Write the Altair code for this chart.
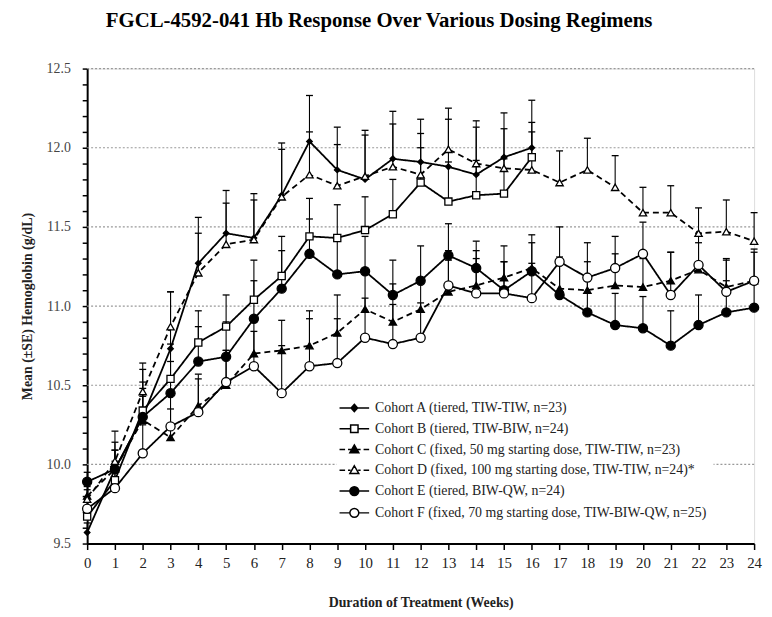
import altair as alt
import pandas as pd

labels = [
    "Cohort A (tiered, TIW-TIW, n=23)",
    "Cohort B (tiered, TIW-BIW, n=24)",
    "Cohort C (fixed, 50 mg starting dose, TIW-TIW, n=23)",
    "Cohort D (fixed, 100 mg starting dose, TIW-TIW, n=24)*",
    "Cohort E (tiered, BIW-QW, n=24)",
    "Cohort F (fixed, 70 mg starting dose, TIW-BIW-QW, n=25)",
]

hb_A = [9.57, 9.97, 10.30, 10.73, 11.27, 11.46, 11.43, 11.70, 12.04, 11.86, 11.80, 11.93, 11.91, 11.88, 11.83, 11.94, 12.00]
se_A = [0.06, 0.24, 0.30, 0.36, 0.29, 0.27, 0.28, 0.33, 0.29, 0.27, 0.31, 0.30, 0.27, 0.30, 0.30, 0.28, 0.30]

hb_B = [9.67, 9.90, 10.34, 10.54, 10.77, 10.87, 11.04, 11.19, 11.44, 11.43, 11.48, 11.58, 11.78, 11.66, 11.70, 11.71, 11.94]
se_B = [0.06, 0.12, 0.18, 0.22, 0.20, 0.20, 0.25, 0.25, 0.24, 0.21, 0.21, 0.22, 0.22, 0.25, 0.22, 0.22, 0.22]

hb_C = [9.80, 9.97, 10.28, 10.17, 10.37, 10.50, 10.70, 10.72, 10.75, 10.83, 10.98, 10.90, 10.98, 11.09, 11.13, 11.18, 11.24, 11.11, 11.10, 11.13, 11.12, 11.16, 11.23, 11.12, 11.16]
se_C = [0.06, 0.12, 0.15, 0.18, 0.20, 0.22, 0.20, 0.19, 0.22, 0.24, 0.22, 0.24, 0.20, 0.20, 0.22, 0.20, 0.21, 0.20, 0.18, 0.20, 0.18, 0.18, 0.17, 0.18, 0.18]

hb_D = [9.78, 10.02, 10.46, 10.87, 11.21, 11.39, 11.42, 11.69, 11.83, 11.76, 11.82, 11.88, 11.83, 11.99, 11.90, 11.87, 11.86, 11.78, 11.86, 11.75, 11.59, 11.59, 11.46, 11.47, 11.41]
se_D = [0.06, 0.12, 0.18, 0.22, 0.25, 0.26, 0.25, 0.30, 0.27, 0.26, 0.26, 0.27, 0.26, 0.26, 0.27, 0.25, 0.24, 0.20, 0.20, 0.20, 0.16, 0.17, 0.16, 0.20, 0.18]

hb_E = [9.89, 9.97, 10.30, 10.45, 10.65, 10.68, 10.92, 11.11, 11.33, 11.20, 11.22, 11.07, 11.16, 11.32, 11.24, 11.10, 11.22, 11.07, 10.96, 10.88, 10.86, 10.75, 10.88, 10.96, 10.99]
se_E = [0.06, 0.12, 0.18, 0.20, 0.22, 0.22, 0.24, 0.24, 0.22, 0.22, 0.22, 0.22, 0.22, 0.20, 0.17, 0.18, 0.18, 0.20, 0.20, 0.20, 0.20, 0.22, 0.19, 0.20, 0.18]

hb_F = [9.72, 9.85, 10.07, 10.24, 10.33, 10.52, 10.62, 10.45, 10.62, 10.64, 10.80, 10.76, 10.80, 11.13, 11.08, 11.08, 11.05, 11.28, 11.18, 11.24, 11.33, 11.07, 11.26, 11.09, 11.16]
se_F = [0.06, 0.12, 0.18, 0.22, 0.21, 0.20, 0.22, 0.30, 0.30, 0.28, 0.25, 0.25, 0.22, 0.22, 0.22, 0.20, 0.22, 0.22, 0.22, 0.20, 0.20, 0.27, 0.20, 0.20, 0.20]

x_ticks = list(range(25))
y_ticks = [round(9.5 + 0.1 * i, 1) for i in range(31)]
grid_vals = [10.0, 10.5, 11.0, 11.5, 12.0, 12.5]

series = [hb_A, hb_B, hb_C, hb_D, hb_E, hb_F]
ses = [se_A, se_B, se_C, se_D, se_E, se_F]
rows = []
for lab, hb, se in zip(labels, series, ses):
    for w, (v, s) in enumerate(zip(hb, se)):
        rows.append({"cohort": lab, "week": w, "hb": v, "hi": round(v + s, 3)})
df = pd.DataFrame(rows)

shapes = ["diamond", "square", "triangle-up", "triangle-up", "circle", "circle"]
fills = ["black", "white", "black", "white", "black", "white"]
sizes = [32, 52, 55, 55, 85, 85]
dashes = [[1, 0], [1, 0], [6, 4], [6, 4], [1, 0], [1, 0]]

legend_paths = [
    "M-1.36,0H1.36M0,-0.34L0.3,0L0,0.34L-0.3,0Z",
    "M-1.36,0H-0.34M0.34,0H1.36M-0.34,-0.34H0.34V0.34H-0.34Z",
    "M-1.36,0H-0.85M-0.58,0H0.58M0.85,0H1.36M0,-0.42L0.41,0.3L-0.41,0.3Z",
    "M-1.36,0H-0.85M-0.58,0H-0.35M0.35,0H0.58M0.85,0H1.36M0,-0.42L0.41,0.3L-0.41,0.3Z",
    "M-1.36,0H1.36M0.41,0A0.41,0.41 0 1,1 -0.41,0A0.41,0.41 0 1,1 0.41,0Z",
    "M-1.36,0H-0.41M0.41,0H1.36M0.41,0A0.41,0.41 0 1,1 -0.41,0A0.41,0.41 0 1,1 0.41,0Z",
]

FONT = "Liberation Serif"

x_axis = alt.Axis(values=x_ticks, title="Duration of Treatment (Weeks)", grid=False,
                  domainColor="black", domainWidth=2, tickColor="black", tickWidth=1.5, tickSize=6,
                  labelFont=FONT, labelFontSize=15, labelColor="#222", labelPadding=6, labelFlush=False,
                  titleFont=FONT, titleFontSize=14, titleFontWeight="bold", titleColor="#222", titlePadding=26)
y_axis = alt.Axis(values=y_ticks, title="Mean (\u00b1SE) Hemoglobin (g/dL)", grid=False,
                  labelExpr="round(datum.value*10) % 5 == 0 ? format(datum.value, '.1f') : ''",
                  domainColor="black", domainWidth=2, tickColor="black", tickWidth=1.5, tickSize=5,
                  labelFont=FONT, labelFontSize=14, labelColor="#444", labelPadding=12,
                  titleFont=FONT, titleFontSize=14, titleFontWeight="bold", titleColor="#222", titlePadding=12)

xs = alt.Scale(domain=[0, 24], nice=False, zero=False)
ys = alt.Scale(domain=[9.5, 12.5], nice=False, zero=False)

X = alt.X("week:Q", scale=xs, axis=x_axis)
Y = alt.Y("hb:Q", scale=ys, axis=y_axis)

grid = alt.Chart(pd.DataFrame({"g": grid_vals})).mark_rule(
    color="#999", strokeDash=[2, 2], strokeWidth=1.2
).encode(y=alt.Y("g:Q", scale=ys, axis=y_axis))

base = alt.Chart(df)

line_layers = []
point_layers = []
for lab, shp, fl, sz, ds in zip(labels, shapes, fills, sizes, dashes):
    sub = base.transform_filter(alt.datum.cohort == lab)
    line_layers.append(sub.mark_line(color="black", strokeWidth=1.8, strokeDash=ds).encode(x=X, y=Y))
    point_layers.append(sub.mark_point(shape=shp, fill=fl, filled=True, stroke="black",
                                       strokeWidth=1.3, size=sz, opacity=1).encode(x=X, y=Y))

bars = base.mark_rule(color="black", strokeWidth=1.1).encode(x=X, y=Y, y2="hi:Q")
caps = base.mark_point(shape="stroke", size=49, color="black", strokeWidth=1.3, opacity=1).encode(
    x=X, y=alt.Y("hi:Q", scale=ys, axis=y_axis)
)

leg = alt.Legend(
    title=None, orient="none", legendX=252, legendY=325, symbolSize=484,
    symbolStrokeWidth=1.5, symbolStrokeColor="black", symbolOpacity=1,
    labelFont=FONT, labelFontSize=14, labelColor="#222", labelLimit=600, labelOffset=9,
    rowPadding=2, padding=6, fillColor="white", zindex=2,
)
legend_layer = base.transform_filter("datum.week < 0").mark_point(
    filled=False, strokeWidth=1.5, opacity=1
).encode(
    x=X, y=Y,
    shape=alt.Shape("cohort:N", scale=alt.Scale(domain=labels, range=legend_paths), legend=leg),
    fill=alt.Fill("cohort:N", scale=alt.Scale(domain=labels, range=fills), legend=leg),
    stroke=alt.Stroke("cohort:N", scale=alt.Scale(domain=labels, range=["black"] * 6), legend=leg),
)

chart = alt.layer(grid, *line_layers, bars, caps, *point_layers, legend_layer).properties(
    width=674, height=480,
    autosize=alt.AutoSizeParams(type="none"),
    padding={"left": 80, "top": 58, "right": 10, "bottom": 70},
    title=alt.TitleParams(
        "FGCL-4592-041 Hb Response Over Various Dosing Regimens",
        font=FONT, fontSize=21, fontWeight="bold", color="black",
        anchor="middle", dx=-42, offset=31,
    ),
).configure_view(stroke=None).configure_legend(fillColor="white").configure(background="white")

chart.save("out.html", embed_options={"renderer": "svg", "actions": False})
